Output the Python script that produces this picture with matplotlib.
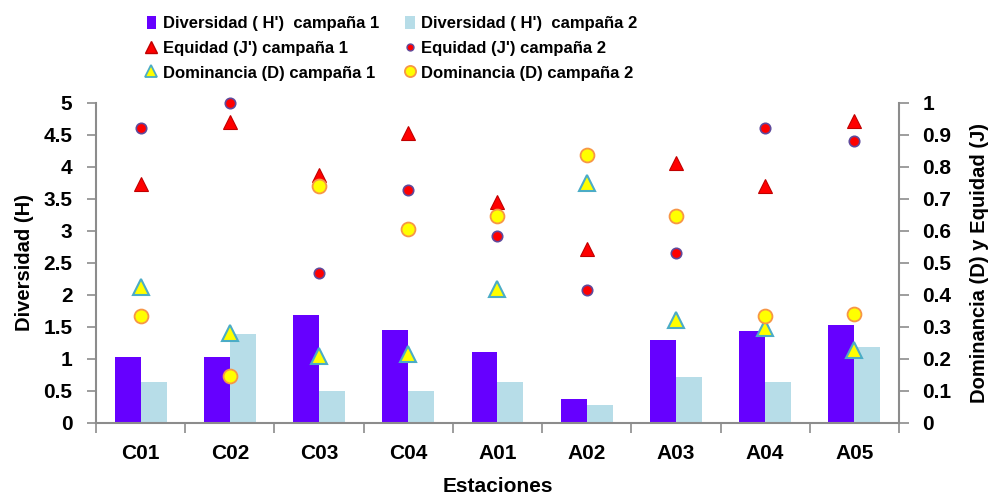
import numpy as np
import matplotlib
matplotlib.use("Agg")
import matplotlib.pyplot as plt
from matplotlib.lines import Line2D
from matplotlib.patches import Patch

plt.rcParams['font.family'] = ['Liberation Sans', 'DejaVu Sans']
plt.rcParams['font.weight'] = 'bold'
plt.rcParams['axes.labelweight'] = 'bold'

estaciones = ["C01", "C02", "C03", "C04", "A01", "A02", "A03", "A04", "A05"]

div_c1 = [1.03, 1.03, 1.69, 1.45, 1.10, 0.37, 1.30, 1.44, 1.53]
div_c2 = [0.63, 1.38, 0.49, 0.49, 0.63, 0.28, 0.72, 0.63, 1.19]

equi_c1 = [0.745, 0.941, 0.774, 0.905, 0.690, 0.542, 0.813, 0.741, 0.944]
equi_c2 = [0.920, 1.000, 0.468, 0.727, 0.585, 0.416, 0.529, 0.920, 0.879]

dom_c1 = [0.424, 0.281, 0.210, 0.215, 0.418, 0.750, 0.320, 0.297, 0.226]
dom_c2 = [0.335, 0.147, 0.741, 0.604, 0.646, 0.836, 0.647, 0.335, 0.341]

gris = "#8c8c8c"

fig = plt.figure(figsize=(9.9, 4.95), dpi=100)
ax = fig.add_axes([0.097, 0.146, 0.811, 0.6465])
ax2 = ax.twinx()

x = np.arange(len(estaciones))
w = 0.29
ax.bar(x - w / 2, div_c1, w, color="#6600FF", zorder=2)
ax.bar(x + w / 2, div_c2, w, color="#B7DDE8", zorder=2)

ax2.plot(x, equi_c1, linestyle="none", marker="^", markersize=10,
         markerfacecolor="#FF0000", markeredgecolor="#C00000", markeredgewidth=0.8, clip_on=False)
ax2.plot(x, equi_c2, linestyle="none", marker="o", markersize=7.5,
         markerfacecolor="#FF0000", markeredgecolor="#604A9B", markeredgewidth=1.2, clip_on=False)
ax2.plot(x, dom_c1, linestyle="none", marker="^", markersize=12,
         markerfacecolor="#FFFF00", markeredgecolor="#4BACC6", markeredgewidth=1.5, clip_on=False)
ax2.plot(x, dom_c2, linestyle="none", marker="o", markersize=10,
         markerfacecolor="#FFFF00", markeredgecolor="#F79646", markeredgewidth=1.3, clip_on=False)

ax.set_xlim(-0.5, len(estaciones) - 0.5)
ax.set_ylim(0, 5)
ax2.set_ylim(0, 1)

ax.set_yticks(np.arange(0, 5.01, 0.5))
ax.set_yticklabels(["0", "0.5", "1", "1.5", "2", "2.5", "3", "3.5", "4", "4.5", "5"])
ax2.set_yticks(np.arange(0, 1.01, 0.1))
ax2.set_yticklabels(["0", "0.1", "0.2", "0.3", "0.4", "0.5", "0.6", "0.7", "0.8", "0.9", "1"])

ax.set_xticks(x)
ax.set_xticklabels(estaciones)
ax.set_xticks(np.arange(-0.5, len(estaciones), 1), minor=True)
ax.tick_params(axis="x", which="major", length=0, pad=15.5, labelsize=15)
ax.tick_params(axis="x", which="minor", length=7, width=1.2, color=gris, direction="out")
ax.tick_params(axis="y", length=6.5, width=1.2, color=gris, labelsize=15, pad=10.5)
ax2.tick_params(axis="y", length=7, width=1.2, color=gris, labelsize=15, pad=10)

for a in (ax, ax2):
    a.spines["top"].set_visible(False)
    for s in ("left", "right", "bottom"):
        a.spines[s].set_color(gris)
        a.spines[s].set_linewidth(1.5)
ax.spines["right"].set_visible(False)
ax2.spines["left"].set_visible(False)
ax2.spines["bottom"].set_visible(False)

ax.set_ylabel("Diversidad (H)", fontsize=14.5)
ax.yaxis.set_label_coords(-0.077, 0.5)
ax2.set_ylabel("Dominancia (D) y Equidad (J)", fontsize=14.5)
ax2.yaxis.set_label_coords(1.089, 0.5)
ax.set_xlabel("Estaciones", fontsize=15)
ax.xaxis.set_label_coords(0.5, -0.17)

handles = [
    Patch(facecolor="#6600FF", label="Diversidad ( H')  campaña 1"),
    Line2D([], [], linestyle="none", marker="^", markersize=8, markerfacecolor="#FF0000",
           markeredgecolor="#C00000", label="Equidad (J') campaña 1"),
    Line2D([], [], linestyle="none", marker="^", markersize=8, markerfacecolor="#FFFF00",
           markeredgecolor="#4BACC6", markeredgewidth=1.3, label="Dominancia (D) campaña 1"),
    Patch(facecolor="#B7DDE8", label="Diversidad ( H')  campaña 2"),
    Line2D([], [], linestyle="none", marker="o", markersize=5, markerfacecolor="#FF0000",
           markeredgecolor="#604A9B", label="Equidad (J') campaña 2"),
    Line2D([], [], linestyle="none", marker="o", markersize=8, markerfacecolor="#FFFF00",
           markeredgecolor="#F79646", markeredgewidth=1.3, label="Dominancia (D) campaña 2"),
]
fig.legend(handles=handles, ncol=2, loc="upper left", bbox_to_anchor=(0.133, 0.998),
           frameon=False, handlelength=0.55, handleheight=0.85, handletextpad=0.4,
           columnspacing=1.6, labelspacing=0.55,
           prop={"weight": "bold", "size": 12})

fig.savefig("out.png", dpi=100)
